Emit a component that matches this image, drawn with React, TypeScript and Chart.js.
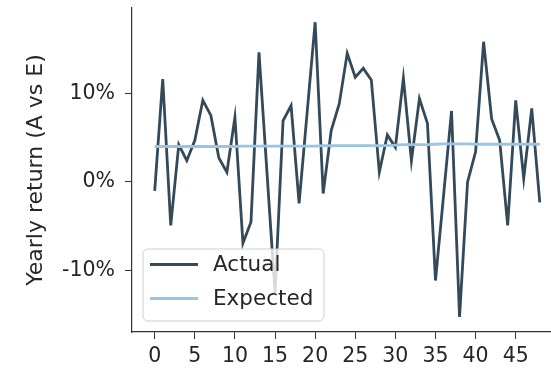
import React, { useEffect, useRef } from "react";
import { Chart, registerables } from "chart.js";

Chart.register(...registerables);

const years: number[] = Array.from({ length: 49 }, (_, i) => i);
const actual: number[] = [
  -1.0, 11.6, -4.9, 4.2, 2.4, 4.7, 9.2, 7.5, 2.7, 1.1,
  7.3, -6.9, -4.5, 14.6, 1.0, -12.5, 6.9, 8.6, -2.4, 7.8,
  18.0, -1.3, 5.8, 8.8, 14.5, 11.8, 12.8, 11.5, 1.1, 5.3,
  3.9, 11.7, 2.4, 9.4, 6.6, -11.1, -1.6, 8.0, -15.2, 0.0,
  3.4, 15.8, 7.1, 4.7, -4.9, 9.2, 0.4, 8.3, -2.3,
];
const expected: number[] = [
  4.0, 4.0, 4.0, 4.0, 4.0, 4.0, 4.0, 4.0, 4.0, 4.0,
  4.0, 4.05, 4.05, 4.05, 4.05, 4.05, 4.05, 4.05, 4.05, 4.05,
  4.05, 4.1, 4.1, 4.1, 4.1, 4.1, 4.1, 4.1, 4.1, 4.1,
  4.15, 4.2, 4.2, 4.2, 4.2, 4.25, 4.3, 4.3, 4.3, 4.3,
  4.25, 4.25, 4.25, 4.25, 4.25, 4.25, 4.25, 4.25, 4.25,
];
const xTicks: number[] = [0, 5, 10, 15, 20, 25, 30, 35, 40, 45];
const yTicks: number[] = [-10, 0, 10];
const seriesNames: string[] = ["Actual", "Expected"];
const colors: string[] = ["#34495a", "#9ac5e2"];

const FONT = "'DejaVu Sans', sans-serif";

const legendPlugin = {
  id: "inlineLegend",
  afterDraw(chart: any) {
    const { ctx } = chart;
    const x = 143, y = 249, w = 181, h = 72, r = 5;
    ctx.save();
    ctx.beginPath();
    ctx.moveTo(x + r, y);
    ctx.lineTo(x + w - r, y);
    ctx.arcTo(x + w, y, x + w, y + r, r);
    ctx.lineTo(x + w, y + h - r);
    ctx.arcTo(x + w, y + h, x + w - r, y + h, r);
    ctx.lineTo(x + r, y + h);
    ctx.arcTo(x, y + h, x, y + h - r, r);
    ctx.lineTo(x, y + r);
    ctx.arcTo(x, y, x + r, y, r);
    ctx.closePath();
    ctx.fillStyle = "rgba(255,255,255,0.8)";
    ctx.fill();
    ctx.strokeStyle = "#d0d0d0";
    ctx.lineWidth = 1;
    ctx.stroke();
    const rows = [264.5, 298.5];
    seriesNames.forEach((name, i) => {
      ctx.beginPath();
      ctx.moveTo(150, rows[i]);
      ctx.lineTo(198, rows[i]);
      ctx.strokeStyle = colors[i];
      ctx.lineWidth = 2.8;
      ctx.stroke();
      ctx.fillStyle = "#262626";
      ctx.font = `21.5px ${FONT}`;
      ctx.textBaseline = "middle";
      ctx.textAlign = "left";
      ctx.fillText(name, 213, rows[i] + 1);
    });
    ctx.restore();
  },
};

export default function App() {
  const ref = useRef<HTMLCanvasElement | null>(null);
  useEffect(() => {
    if (!ref.current) return;
    const chart = new Chart(ref.current, {
      type: "line",
      data: {
        labels: years,
        datasets: [
          {
            label: seriesNames[0],
            data: years.map((x, i) => ({ x, y: actual[i] })),
            borderColor: colors[0],
            borderWidth: 2.8,
            pointRadius: 0,
            tension: 0,
            order: 1,
          },
          {
            label: seriesNames[1],
            data: years.map((x, i) => ({ x, y: expected[i] })),
            borderColor: colors[1],
            borderWidth: 2.8,
            pointRadius: 0,
            tension: 0,
            order: 0,
          },
        ],
      },
      options: {
        responsive: false,
        animation: false,
        layout: { padding: { top: 8, right: 0, left: 0, bottom: 0 } },
        plugins: { legend: { display: false }, tooltip: { enabled: false } },
        scales: {
          x: {
            type: "linear",
            min: -2.83,
            max: 49.4,
            afterBuildTicks: (s: any) => {
              s.ticks = xTicks.map((v) => ({ value: v }));
            },
            afterFit: (s: any) => {
              s.height = 37;
              s.paddingLeft = 0;
              s.paddingRight = 0;
            },
            grid: {
              display: true,
              drawOnChartArea: false,
              drawTicks: true,
              tickLength: 7,
              tickColor: "#333333",
              tickWidth: 1,
            },
            border: { display: true, color: "#333333", width: 1.2 },
            ticks: {
              color: "#262626",
              font: { family: FONT, size: 20.5 },
              padding: 5,
              maxRotation: 0,
              autoSkip: false,
              callback: (v: any) => String(v),
            },
          },
          y: {
            type: "linear",
            min: -16.9,
            max: 19.6,
            afterBuildTicks: (s: any) => {
              s.ticks = yTicks.map((v) => ({ value: v }));
            },
            afterFit: (s: any) => {
              s.width = 132;
              s.paddingTop = 0;
              s.paddingBottom = 0;
            },
            grid: {
              display: true,
              drawOnChartArea: false,
              drawTicks: true,
              tickLength: 7,
              tickColor: "#333333",
              tickWidth: 1,
            },
            border: { display: true, color: "#333333", width: 1.2 },
            ticks: {
              color: "#262626",
              font: { family: FONT, size: 20.5 },
              padding: 10,
              autoSkip: false,
              callback: (v: any) => `${v}%`,
            },
            title: {
              display: true,
              text: "Yearly return (A vs E)",
              color: "#262626",
              font: { family: FONT, size: 22 },
              padding: { top: 23, bottom: 0 },
            },
          },
        },
      },
      plugins: [legendPlugin],
    });
    return () => chart.destroy();
  }, []);
  return (
    <div style={{ position: "fixed", left: 0, top: 0, width: 551, height: 369, background: "#fff" }}>
      <canvas ref={ref} width={551} height={369} style={{ display: "block" }} />
    </div>
  );
}
